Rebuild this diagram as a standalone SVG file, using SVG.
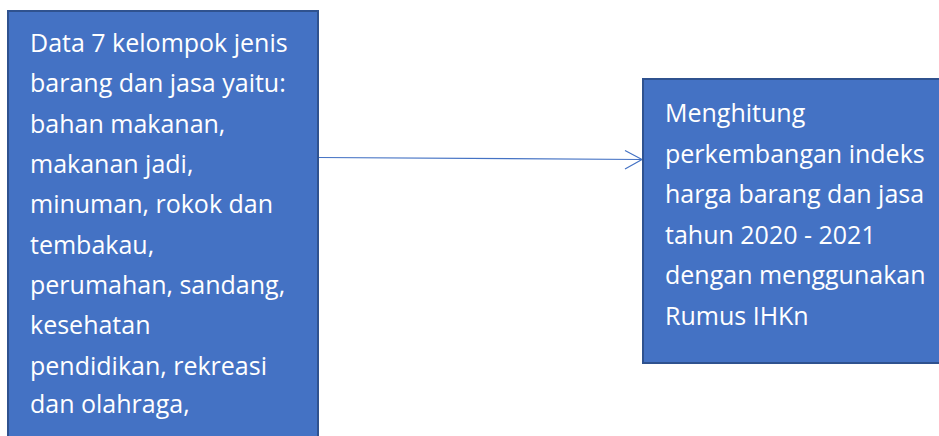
<svg xmlns="http://www.w3.org/2000/svg" width="939" height="436" viewBox="0 0 939 436">
<style>
.box{fill:#4472C4;stroke:#2F528F;stroke-width:2}
.t{font-family:"Open Sans","Noto Sans",sans-serif;font-size:25px;fill:#FFFFFF}
.c{fill:none;stroke:#4472C4;stroke-width:1.2}
</style>
<rect width="939" height="436" fill="#FFFFFF"/>
<g id="connectors">
<line class="c" x1="318" y1="157.5" x2="642" y2="159.5"/>
<polyline class="c" points="625,150.5 642,159.5 625,169"/>
</g>
<g id="node-data">
<rect class="box" x="8" y="11" width="310" height="440"/>
<text class="t" x="30">
<tspan x="30" y="52">Data 7 kelompok jenis</tspan>
<tspan x="30" y="92">barang dan jasa yaitu:</tspan>
<tspan x="30" y="132.5">bahan makanan,</tspan>
<tspan x="30" y="173">makanan jadi,</tspan>
<tspan x="30" y="213">minuman, rokok dan</tspan>
<tspan x="30" y="253.5">tembakau,</tspan>
<tspan x="30" y="294">perumahan, sandang,</tspan>
<tspan x="30" y="334">kesehatan</tspan>
<tspan x="30" y="374.5">pendidikan, rekreasi</tspan>
<tspan x="30" y="413">dan olahraga,</tspan>
</text>
</g>
<g id="node-hitung">
<rect class="box" x="643" y="79" width="310" height="284"/>
<text class="t">
<tspan x="665" y="122">Menghitung</tspan>
<tspan x="665" y="162.5">perkembangan indeks</tspan>
<tspan x="665" y="203">harga barang dan jasa</tspan>
<tspan x="665" y="243.5">tahun 2020 - 2021</tspan>
<tspan x="665" y="284">dengan menggunakan</tspan>
<tspan x="665" y="324.5">Rumus IHKn</tspan>
</text>
</g>
</svg>
